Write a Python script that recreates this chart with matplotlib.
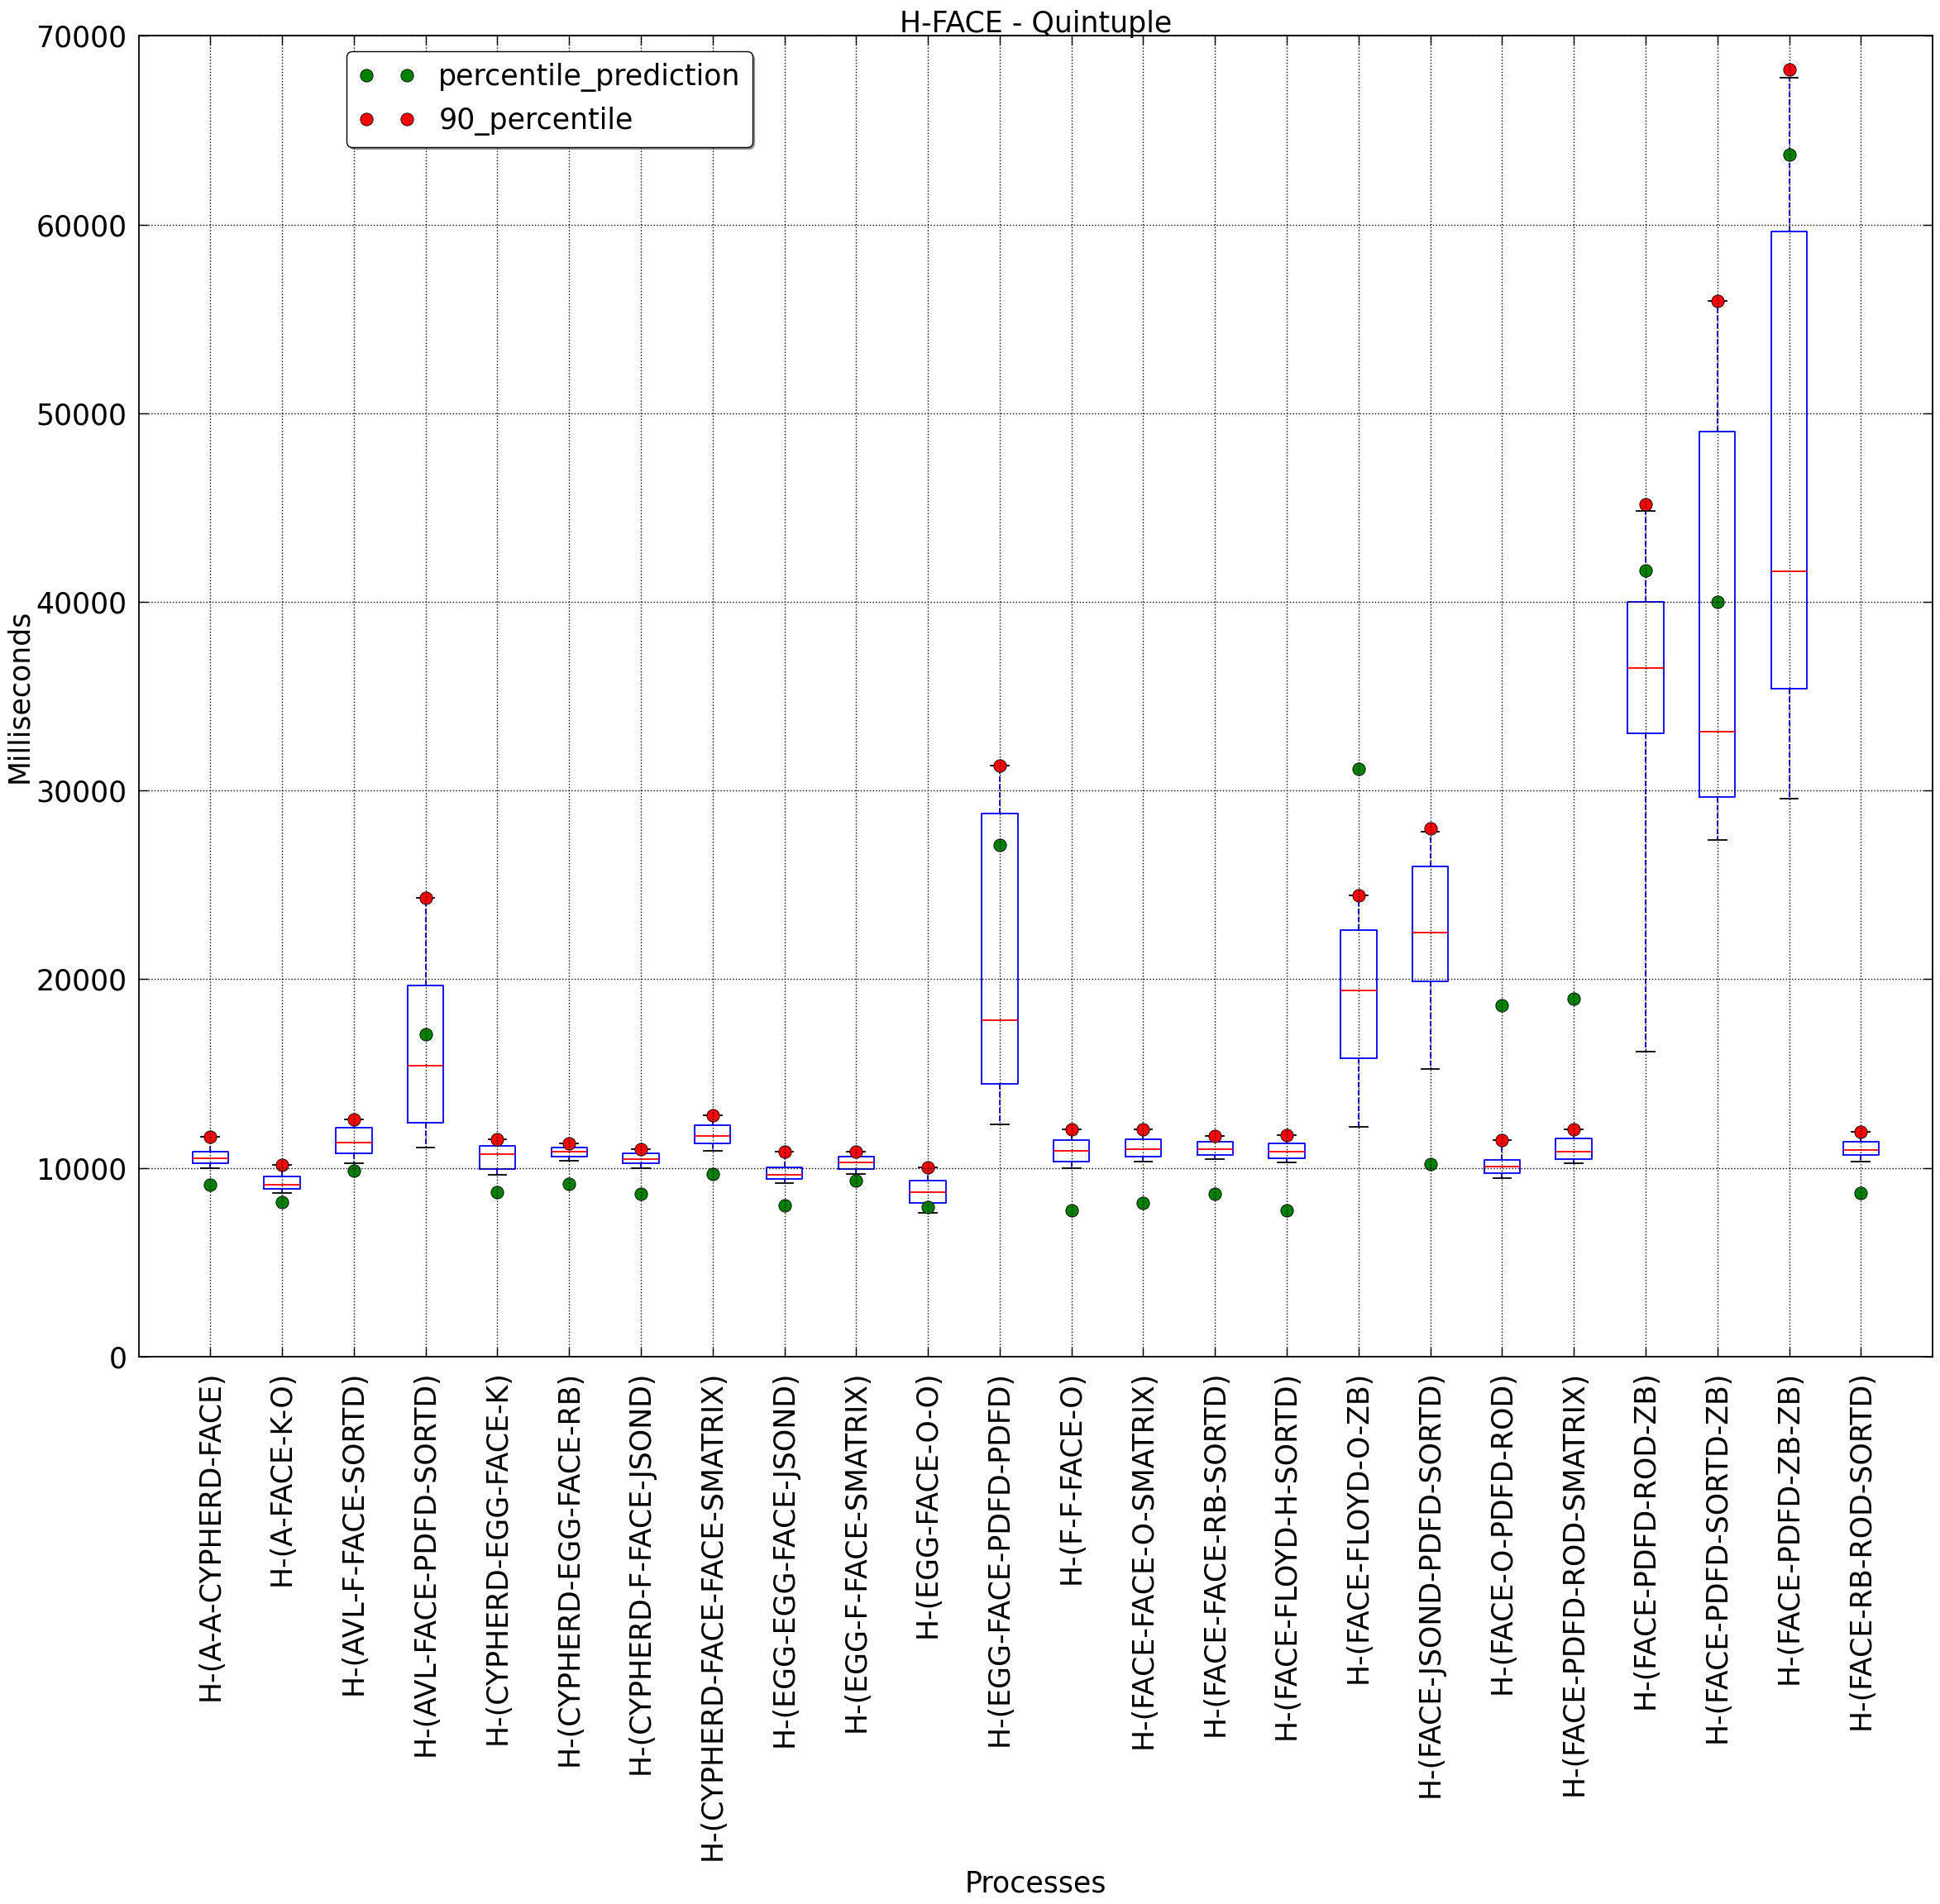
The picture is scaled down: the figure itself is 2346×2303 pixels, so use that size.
import matplotlib
matplotlib.use("Agg")
import matplotlib.pyplot as plt

names = ["H-(A-A-CYPHERD-FACE)", "H-(A-FACE-K-O)", "H-(AVL-F-FACE-SORTD)",
         "H-(AVL-FACE-PDFD-SORTD)", "H-(CYPHERD-EGG-FACE-K)", "H-(CYPHERD-EGG-FACE-RB)",
         "H-(CYPHERD-F-FACE-JSOND)", "H-(CYPHERD-FACE-FACE-SMATRIX)", "H-(EGG-EGG-FACE-JSOND)",
         "H-(EGG-F-FACE-SMATRIX)", "H-(EGG-FACE-O-O)", "H-(EGG-FACE-PDFD-PDFD)",
         "H-(F-F-FACE-O)", "H-(FACE-FACE-O-SMATRIX)", "H-(FACE-FACE-RB-SORTD)",
         "H-(FACE-FLOYD-H-SORTD)", "H-(FACE-FLOYD-O-ZB)", "H-(FACE-JSOND-PDFD-SORTD)",
         "H-(FACE-O-PDFD-ROD)", "H-(FACE-PDFD-ROD-SMATRIX)", "H-(FACE-PDFD-ROD-ZB)",
         "H-(FACE-PDFD-SORTD-ZB)", "H-(FACE-PDFD-ZB-ZB)", "H-(FACE-RB-ROD-SORTD)"]

whislo = [10000, 8670, 10250, 11100, 9650, 10380, 10000, 10900, 9200, 9660, 7640, 12320,
          10000, 10340, 10470, 10290, 12160, 15260, 9480, 10250, 16170, 27380, 29550, 10350]
q1 = [10230, 8880, 10770, 12390, 9940, 10580, 10230, 11300, 9420, 9960, 8150, 14470,
      10340, 10580, 10670, 10500, 15810, 19870, 9720, 10470, 33050, 29670, 35420, 10670]
med = [10510, 9110, 11340, 15400, 10730, 10860, 10470, 11690, 9640, 10290, 8730, 17820,
       10900, 10990, 10990, 10860, 19390, 22490, 10070, 10860, 36510, 33100, 41620, 10950]
q3 = [10860, 9550, 12130, 19660, 11170, 11080, 10770, 12260, 10040, 10600, 9330, 28770,
      11470, 11520, 11390, 11300, 22620, 25980, 10420, 11560, 40000, 49020, 59640, 11390]
whishi = [11650, 10160, 12550, 24300, 11520, 11310, 11010, 12790, 10880, 10860, 10040, 31320,
          12030, 12060, 11690, 11740, 24450, 27830, 11490, 12030, 44830, 55950, 67790, 11910]
p90 = [11650, 10160, 12550, 24300, 11520, 11310, 11010, 12790, 10880, 10860, 10040, 31320,
       12030, 12060, 11690, 11740, 24450, 27980, 11490, 12030, 45170, 55950, 68210, 11910]
prediction = [9110, 8190, 9850, 17100, 8720, 9150, 8630, 9680, 8030, 9330, 7940, 27130,
              7750, 8150, 8630, 7750, 31150, 10200, 18600, 18950, 41680, 40000, 63690, 8660]

FS = 25

fig = plt.figure(figsize=(23.46, 23.03), dpi=100)
ax = fig.add_axes([0.0714, 0.2875, 0.9248, 0.6937])

stats = []
for i in range(len(names)):
    stats.append({"whislo": whislo[i], "q1": q1[i], "med": med[i],
                  "q3": q3[i], "whishi": whishi[i], "fliers": []})
pos = list(range(1, len(names) + 1))

ax.bxp(stats, positions=pos, widths=0.5, showfliers=False,
       boxprops=dict(color="b", linewidth=1.3),
       medianprops=dict(color="r", linewidth=1.3),
       whiskerprops=dict(color="b", linestyle="--", linewidth=1.3),
       capprops=dict(color="k", linewidth=1.3))

ax.plot(pos, prediction, "go", markersize=11, markeredgecolor="k",
        markeredgewidth=0.6, label="percentile_prediction")
ax.plot(pos, p90, "ro", markersize=11, markeredgecolor="k",
        markeredgewidth=0.6, label="90_percentile")

ax.set_xlim(0, 25)
ax.set_ylim(0, 70000)
ax.set_xticks(pos)
ax.set_xticklabels(names, rotation=90, fontsize=FS)
ax.tick_params(axis="y", labelsize=FS)
ax.tick_params(direction="in", top=True, right=True, length=8, width=1)
ax.tick_params(axis="x", pad=12)
ax.tick_params(axis="y", pad=10)
ax.set_axisbelow(False)
ax.grid(True, linestyle=":", color="k", linewidth=1)
for s in ax.spines.values():
    s.set_linewidth(1.3)

ax.set_title("H-FACE - Quintuple", fontsize=FS, pad=3)
ax.set_ylabel("Milliseconds", fontsize=FS, labelpad=2)
ax.set_xlabel("Processes", fontsize=FS, labelpad=8)

leg = ax.legend(loc="upper left", bbox_to_anchor=(0.116, 0.988), borderaxespad=0,
                numpoints=2, fontsize=FS, fancybox=True, shadow=True, framealpha=1)
leg.get_frame().set_edgecolor("k")

fig.savefig("out.png", dpi=100)
